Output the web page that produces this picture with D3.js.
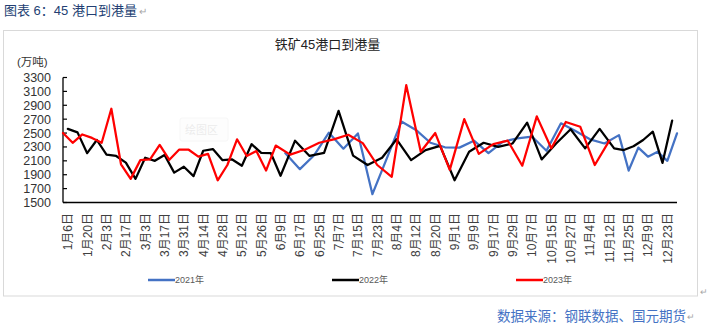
<!DOCTYPE html>
<html>
<head>
<meta charset="utf-8">
<script src="https://cdn.jsdelivr.net/npm/d3@7"></script>
<style>
  body { margin: 0; background: #fff; }
  svg { display: block; }
  text { font-family: "Liberation Sans", Arial, "Noto Sans CJK SC", sans-serif; }
</style>
</head>
<body>
<svg id="chart" width="709" height="330"></svg>
<script>
// Weekly 45-port iron ore arrivals (万吨), one date list per year.
const dates2021 = ["6月10日","6月17日","6月24日","7月1日","7月8日","7月15日","7月22日","7月29日",
  "8月5日","8月12日","8月19日","8月26日","9月2日","9月9日","9月16日","9月23日","9月30日",
  "10月7日","10月14日","10月21日","10月28日","11月4日","11月11日","11月18日","11月25日",
  "12月2日","12月9日","12月16日","12月23日","12月30日"];
const values2021 = [2210,1980,2185,2505,2275,2495,1620,2140,
  2665,2545,2360,2295,2290,2390,2210,2375,2425,
  2450,2245,2640,2530,2410,2350,2470,1960,
  2290,2160,2230,2100,2495];

const dates2022 = ["1月6日","1月13日","1月20日","1月27日","2月3日","2月10日","2月17日","2月24日",
  "3月3日","3月10日","3月17日","3月24日","3月31日","4月7日","4月14日","4月21日","4月28日",
  "5月5日","5月12日","5月19日","5月26日","6月2日","6月9日","6月16日","6月23日","6月30日",
  "7月7日","7月14日","7月21日","7月28日","8月4日","8月11日","8月18日","8月25日",
  "9月1日","9月8日","9月15日","9月22日","9月29日","10月6日","10月13日","10月20日","10月27日",
  "11月3日","11月10日","11月17日","11月24日","12月1日","12月8日","12月15日","12月22日","12月29日"];
const values2022 = [2560,2510,2210,2400,2190,2170,2075,1840,
  2145,2100,2185,1930,2015,1880,2245,2270,2110,
  2120,2030,2340,2215,2210,1885,2390,2170,2215,
  2820,2175,2040,2145,2410,2110,2255,2315,
  1820,2230,2360,2300,2350,2650,2120,2350,2555,
  2280,2560,2280,2255,2310,2400,2520,2070,2680];

const dates2023 = ["1月1日","1月8日","1月15日","1月22日","1月29日","2月5日","2月12日","2月19日","2月26日",
  "3月5日","3月12日","3月19日","3月26日","4月2日","4月9日","4月16日","4月23日","4月30日",
  "5月7日","5月14日","5月21日","5月28日","6月4日","6月11日","6月18日","6月25日",
  "7月2日","7月9日","7月16日","7月23日","7月30日","8月6日","8月13日","8月20日","8月27日",
  "9月3日","9月10日","9月17日","9月24日","10月1日","10月8日","10月15日","10月22日","10月29日",
  "11月5日","11月12日"];
const values2023 = [2500,2360,2480,2430,2360,2850,2050,1840,2110,
  2120,2330,2115,2260,2260,2160,2200,1820,2040,
  2410,2170,2240,1960,2320,2190,2260,2360,
  2410,2475,2355,2040,1870,3190,2230,2500,1970,
  2700,2200,2340,2390,2030,2740,2280,2660,2590,
  2040,2390];

const yTicks = [1500,1700,1900,2100,2300,2500,2700,2900,3100,3300];
const seriesNames = ["2021年","2022年","2023年"];
const seriesColors = ["#4472C4","#000000","#FF0000"];

const svg = d3.select("#chart");

// month-day key for ordering the shared category axis
const mdKey = s => { const m = s.match(/(\d+)月(\d+)日/); return (+m[1]) * 100 + (+m[2]); };
const categories = Array.from(new Set([...dates2021, ...dates2022, ...dates2023]))
  .sort((a, b) => mdKey(a) - mdKey(b));

const series = [
  { name: seriesNames[0], color: seriesColors[0], dates: dates2021, values: values2021 },
  { name: seriesNames[1], color: seriesColors[1], dates: dates2022, values: values2022 },
  { name: seriesNames[2], color: seriesColors[2], dates: dates2023, values: values2023 }
];

const plot = { left: 63, right: 677, top: 77.5, bottom: 202.5 };

const x = d3.scalePoint().domain(categories).range([plot.left, plot.right]).padding(0);
const y = d3.scaleLinear().domain([1500, 3300]).range([plot.bottom, plot.top]);

// outer frame of the chart object
svg.append("rect")
  .attr("x", 3.5).attr("y", 30.5).attr("width", 694).attr("height", 265.5)
  .attr("fill", "#fff").attr("stroke", "#d9d9d9").attr("stroke-width", 1);

// page caption
svg.append("text")
  .attr("x", 4).attr("y", 15)
  .attr("font-family", "'Noto Sans CJK SC', sans-serif")
  .attr("font-size", 13).attr("fill", "#233f73")
  .text("图表 6：45 港口到港量");
svg.append("text")
  .attr("x", 139).attr("y", 15)
  .attr("font-family", "'DejaVu Sans', sans-serif")
  .attr("font-size", 10).attr("fill", "#a6a6a6")
  .text("↵");

// chart title and unit
svg.append("text")
  .attr("x", 327.5).attr("y", 48.5).attr("text-anchor", "middle")
  .attr("font-size", 13).attr("fill", "#222")
  .text("铁矿45港口到港量");
svg.append("text")
  .attr("x", 17).attr("y", 65.5)
  .attr("font-size", 11.5).attr("fill", "#333")
  .text("(万吨)");

// faint plot-area hint
const hint = svg.append("g").attr("opacity", 0.55);
hint.append("rect")
  .attr("x", 180).attr("y", 118).attr("width", 48).attr("height", 23).attr("rx", 2)
  .attr("fill", "#fcfcfc").attr("stroke", "#f0f0f0");
hint.append("text")
  .attr("x", 185).attr("y", 134)
  .attr("font-family", "'Noto Sans CJK SC', sans-serif")
  .attr("font-size", 11).attr("fill", "#dcdcdc")
  .text("绘图区");

// y axis
const yAxis = svg.append("g");
yAxis.append("line")
  .attr("x1", plot.left).attr("x2", plot.left)
  .attr("y1", y(3300)).attr("y2", y(1500))
  .attr("stroke", "#000").attr("stroke-width", 1.3);
yAxis.selectAll("line.tick").data(yTicks).join("line")
  .attr("class", "tick")
  .attr("x1", plot.left).attr("x2", plot.left + 4)
  .attr("y1", d => y(d)).attr("y2", d => y(d))
  .attr("stroke", "#000").attr("stroke-width", 1.2);
yAxis.selectAll("text").data(yTicks).join("text")
  .attr("x", 51).attr("y", d => y(d)).attr("dy", "0.36em")
  .attr("text-anchor", "end")
  .attr("font-size", 12.5).attr("fill", "#333")
  .text(d => d);

// x axis with every fourth date labelled
svg.append("line")
  .attr("x1", plot.left).attr("x2", plot.right)
  .attr("y1", plot.bottom).attr("y2", plot.bottom)
  .attr("stroke", "#000").attr("stroke-width", 1.4);
const shown = categories.filter((d, i) => i % 4 === 1);
svg.append("g").selectAll("text").data(shown).join("text")
  .attr("transform", d => `translate(${x(d)},213) rotate(-90)`)
  .attr("dy", "0.36em")
  .attr("text-anchor", "end")
  .attr("font-size", 12).attr("fill", "#404040")
  .text(d => d);

// series lines
const line = d3.line()
  .x(d => x(d.date))
  .y(d => y(d.value));
svg.append("g").selectAll("path").data(series).join("path")
  .attr("d", s => line(s.dates.map((d, i) => ({ date: d, value: s.values[i] }))))
  .attr("fill", "none")
  .attr("stroke", s => s.color)
  .attr("stroke-width", 2.25)
  .attr("stroke-linejoin", "round")
  .attr("stroke-linecap", "round");

// legend
const legendX = [148, 332, 516];
const legend = svg.append("g").selectAll("g").data(series).join("g")
  .attr("transform", (s, i) => `translate(${legendX[i]},280)`);
legend.append("line")
  .attr("x1", 0).attr("x2", 27).attr("y1", 0).attr("y2", 0)
  .attr("stroke", s => s.color).attr("stroke-width", 2.5);
legend.append("text")
  .attr("x", 27).attr("y", 0).attr("dy", "0.36em")
  .attr("font-size", 9).attr("fill", "#595959")
  .text(s => s.name);

svg.append("text")
  .attr("x", 700).attr("y", 295)
  .attr("font-family", "'DejaVu Sans', sans-serif")
  .attr("font-size", 9).attr("fill", "#a6a6a6")
  .text("↵");

// source note
svg.append("text")
  .attr("x", 686).attr("y", 321).attr("text-anchor", "end")
  .attr("font-family", "'Noto Sans CJK SC', sans-serif")
  .attr("font-size", 13.5).attr("fill", "#4472C4")
  .text("数据来源：钢联数据、国元期货");
svg.append("text")
  .attr("x", 687).attr("y", 320)
  .attr("font-family", "'DejaVu Sans', sans-serif")
  .attr("font-size", 9).attr("fill", "#a6a6a6")
  .text("↵");
</script>
</body>
</html>
